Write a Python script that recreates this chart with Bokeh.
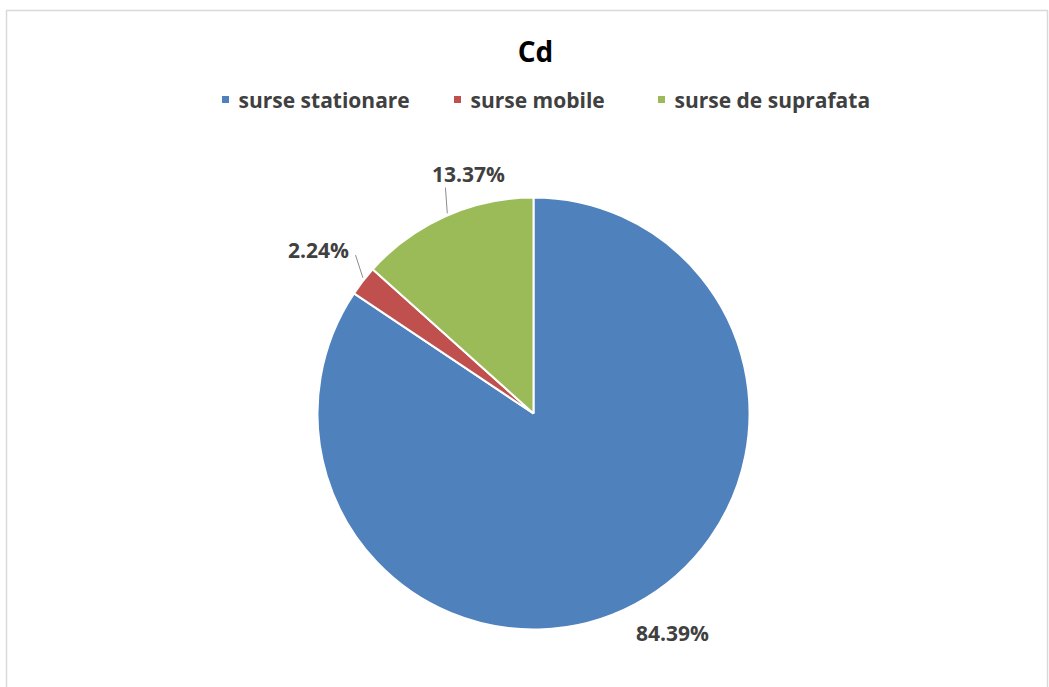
import math
from bokeh.plotting import figure
from bokeh.models import Range1d, ColumnDataSource
from bokeh.core.properties import value
from bokeh.embed import file_html
from bokeh.resources import INLINE

# Cd emission shares by source type
categories = ["surse stationare", "surse mobile", "surse de suprafata"]
shares = [84.39, 2.24, 13.37]
colors = ["#4F81BD", "#C0504D", "#9BBB59"]
labels = ["84.39%", "2.24%", "13.37%"]

W, H = 1049, 687
FONT = "Open Sans"
TEXT_COLOR = "#404040"

p = figure(width=W, height=H, output_backend="svg", toolbar_location=None,
           x_range=Range1d(0, W), y_range=Range1d(0, H),
           min_border=0, outline_line_color=None)
p.axis.visible = False
p.grid.visible = False
p.background_fill_color = "white"
p.border_fill_color = "white"

# chart area frame
p.quad(left=[6], right=[1047], bottom=[-5], top=[H - 10],
       fill_color=None, line_color="#d9d9d9", line_width=1.5)

# pie geometry (pixel space, y up)
cx, cy, r = 533, H - 413, 216

total = sum(shares)
starts, ends, mids = [], [], []
acc = 0.0
for s in shares:
    a0 = math.pi / 2 - 2 * math.pi * acc / total
    acc += s
    a1 = math.pi / 2 - 2 * math.pi * acc / total
    starts.append(a0)
    ends.append(a1)
    mids.append((a0 + a1) / 2)

src = ColumnDataSource(dict(start=starts, end=ends, color=colors, cat=categories))
p.wedge(x=cx, y=cy, radius=r, start_angle="start", end_angle="end",
        direction="clock", fill_color="color", line_color="white",
        line_width=2, source=src)

# data labels: radial distance and angular nudge per slice
label_dist = [260, 270, 248.6]
label_nudge = [4.2, 0.6, -8.9]  # degrees
lx, ly = [], []
for m, d, n in zip(mids, label_dist, label_nudge):
    a = m + math.radians(n)
    lx.append(cx + d * math.cos(a))
    ly.append(cy + d * math.sin(a))

# leader lines for the small slices: (slice, edge angle, offset from label centre)
leaders = [(1, 141.5, (37, -5)), (2, 113.3, (-23, -14))]
for i, edge_deg, (dx, dy) in leaders:
    ea = math.radians(edge_deg)
    ex, ey = cx + (r + 2) * math.cos(ea), cy + (r + 2) * math.sin(ea)
    p.line(x=[ex, lx[i] + dx], y=[ey, ly[i] + dy], line_color="#8c8c8c", line_width=1)

p.text(x=lx, y=ly, text=labels, text_font=value(FONT), text_font_style="bold",
       text_font_size="21px", text_color=TEXT_COLOR,
       text_align="center", text_baseline="middle")

# title
p.text(x=[535], y=[H - 50], text=["Cd"], text_font=value(FONT),
       text_font_style="bold", text_font_size="28px", text_color="black",
       text_align="center", text_baseline="middle")

# legend
leg_sq_x = [225, 457, 661]
leg_y = H - 99
p.scatter(x=leg_sq_x, y=[leg_y] * 3, marker="square", size=7,
          fill_color=colors, line_color=None)
p.text(x=[x + 13 for x in leg_sq_x], y=[leg_y] * 3, text=categories,
       text_font=value(FONT), text_font_style="bold", text_font_size="21px",
       text_color=TEXT_COLOR, text_align="left", text_baseline="middle")

open("out.html", "w").write(file_html(p, INLINE))
